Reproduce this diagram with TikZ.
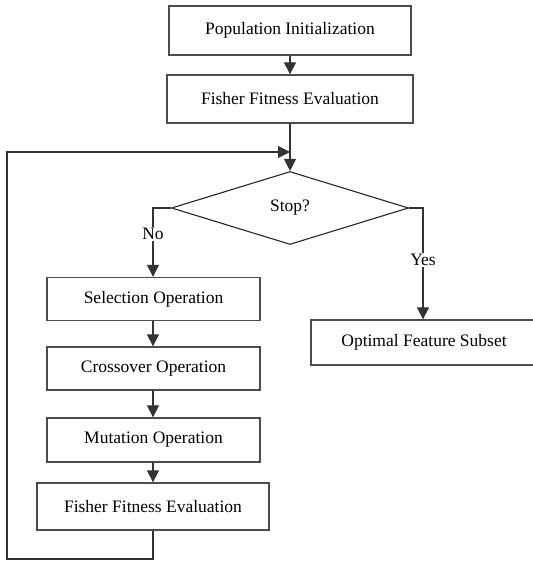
\documentclass[tikz,border=0pt]{standalone}
\usepackage{fontspec}
\setmainfont{Liberation Serif}
\usetikzlibrary{arrows.meta,shapes.geometric}
\begin{document}
\begin{tikzpicture}[x=1pt,y=-1pt,
  box/.style={draw=black!70,line width=1.3pt,inner sep=0pt,font=\fontsize{17.5}{20}\selectfont},
  dia/.style={draw=black!85,line width=1.1pt,diamond,inner sep=0pt,minimum width=237pt,minimum height=73pt,font=\fontsize{17.5}{20}\selectfont},
  conn/.style={draw=black!80,line width=1.1pt},
  arr/.style={conn,-{Triangle[width=12pt,length=12pt]}},
  lbl/.style={fill=white,inner sep=1.5pt,font=\fontsize{17.5}{20}\selectfont}]
\useasboundingbox (0,0) rectangle (532,561);
\node[box,minimum width=242pt,minimum height=49pt] (init) at (290,30.5) {Population Initialization};
\node[box,minimum width=246pt,minimum height=48pt] (fit1) at (290,99) {Fisher Fitness Evaluation};
\node[dia] (stop) at (290,208) {Stop?};
\node[box,minimum width=213pt,minimum height=43pt] (sel) at (153.5,299) {Selection Operation};
\node[box,minimum width=213pt,minimum height=43pt] (cro) at (153.5,368.5) {Crossover Operation};
\node[box,minimum width=213pt,minimum height=44pt] (mut) at (153.5,440) {Mutation Operation};
\node[box,minimum width=232pt,minimum height=47pt] (fit2) at (153,506.5) {Fisher Fitness Evaluation};
\node[box,minimum width=226pt,minimum height=45pt] (opt) at (424,342.5) {Optimal Feature Subset};
\coordinate (jn) at (290,152);
\coordinate (lb) at (7,559);
\coordinate (lt) at (7,152);
\coordinate (nb) at (153,208);
\coordinate (yb) at (423,208);
\draw[arr] (init) -- (fit1);
\draw[arr] (fit1) -- (stop);
\draw[arr] (fit2.south -| nb) |- (lb) -- (lt) -- (jn);
\draw[arr] (stop.west) -- (nb) -- (sel.north -| nb);
\draw[arr] (stop.east) -- (yb) -- (opt.north -| yb);
\node[lbl] (no) at (153,234) {No};
\node[lbl] (yes) at (423,260) {Yes};
\draw[arr] (sel.south -| nb) -- (cro.north -| nb);
\draw[arr] (cro.south -| nb) -- (mut.north -| nb);
\draw[arr] (mut.south -| nb) -- (fit2.north -| nb);
\end{tikzpicture}
\end{document}
